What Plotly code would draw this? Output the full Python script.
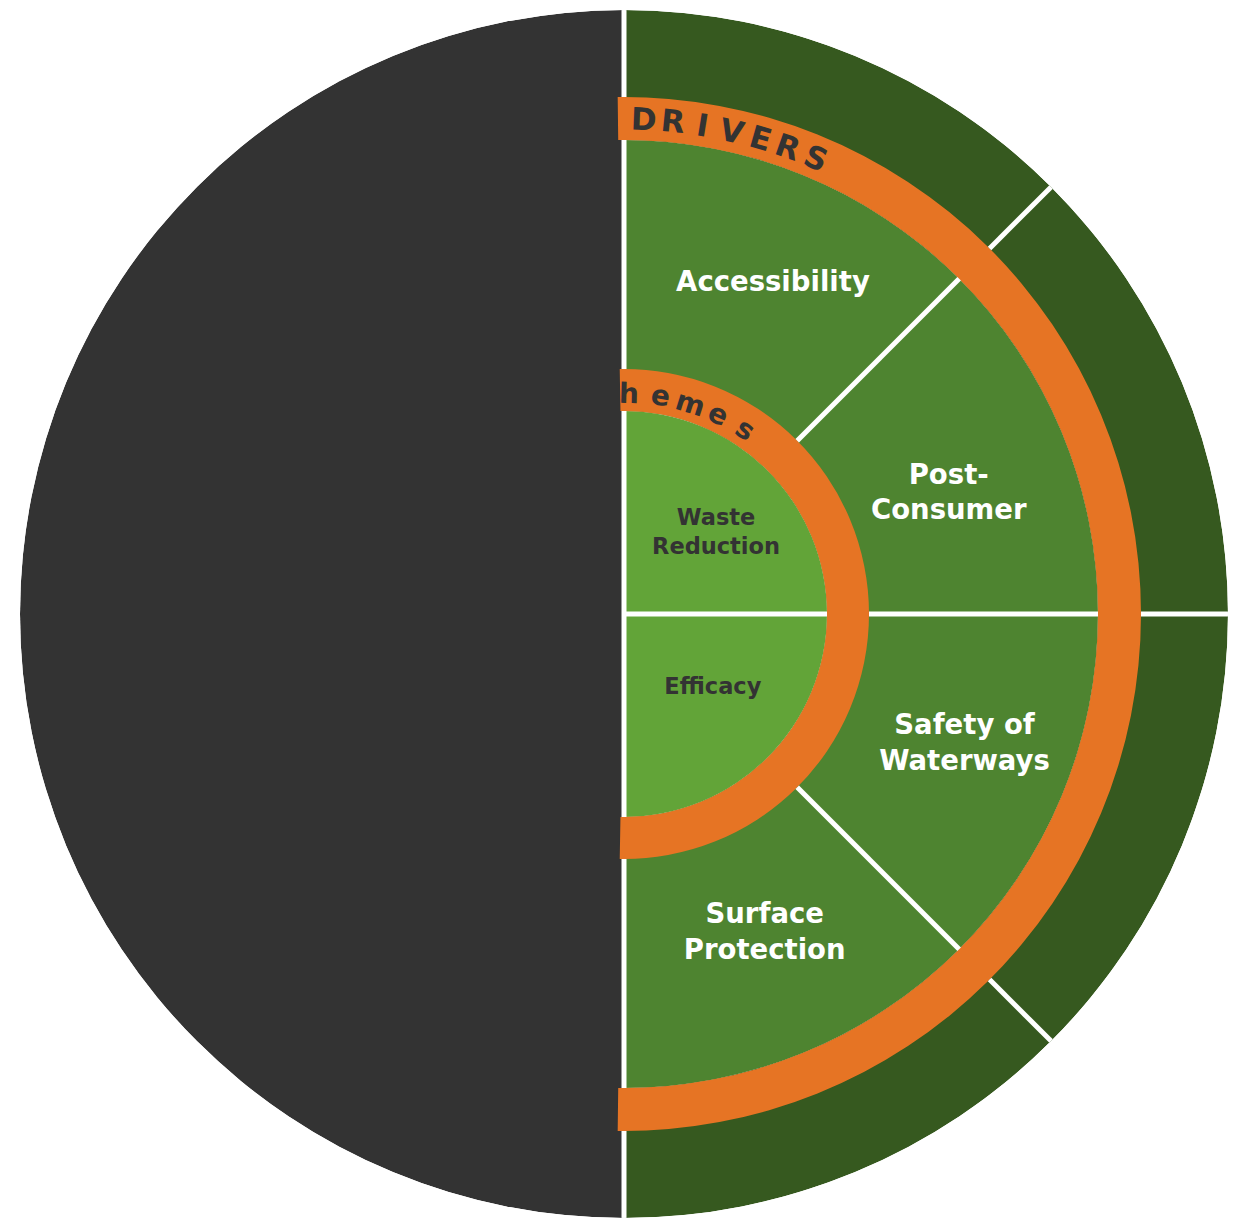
import math
import plotly.graph_objects as go

# ---------------- data ----------------
drivers = ["Accessibility", "Post-<br>Consumer", "Safety of<br>Waterways", "Surface<br>Protection"]
driver_weights = [1, 1, 1, 1]
themes = ["Waste<br>Reduction", "Efficacy"]
theme_weights = [1, 1]
outer_title = "DRIVERS"
inner_title = "Themes"

# ---------------- style ----------------
W, H = 1240, 1218
CX, CY, RPX = 624, 614, 604          # circle centre and radius in pixels
R_THEME, R_OR_IN, R_DRIVER, R_OR_OUT, R_OUT = 203, 245, 474, 517, 604

GRAY = "#333333"
DARK_GREEN = "#36591F"
MID_GREEN = "#4E8430"
LIGHT_GREEN = "#62A438"
ORANGE = "#E67424"
WHITE = "#FFFFFF"
FONT = "DejaVu Sans"

# label placements (radius, angle from top, clockwise)
driver_label_pos = [(362, 24.3), (346, 69.8), (365, 111.1), (350, 156.3)]
theme_label_pos = [(122, 49.0), (116, 130.0)]


def spans(weights, total_angle=180.0):
    tot = float(sum(weights))
    centers, widths, edges = [], [], [0.0]
    start = 0.0
    for w in weights:
        width = total_angle * w / tot
        centers.append(start + width / 2)
        widths.append(width)
        start += width
        edges.append(start)
    return centers, widths, edges


d_cent, d_wid, d_edges = spans(driver_weights)
t_cent, t_wid, t_edges = spans(theme_weights)

fig = go.Figure()

# left dark half
fig.add_trace(go.Barpolar(r=[R_OUT], base=0, theta=[270], width=[180],
                          marker=dict(color=GRAY, line=dict(width=0)), hoverinfo="skip"))
# outer dark-green ring (drivers)
fig.add_trace(go.Barpolar(r=[R_OUT - R_DRIVER] * len(drivers), base=R_DRIVER,
                          theta=d_cent, width=d_wid,
                          marker=dict(color=DARK_GREEN, line=dict(width=0)), hoverinfo="skip"))
# middle ring (drivers)
fig.add_trace(go.Barpolar(r=[R_DRIVER - R_THEME] * len(drivers), base=R_THEME,
                          theta=d_cent, width=d_wid,
                          marker=dict(color=MID_GREEN, line=dict(width=0)), hoverinfo="skip"))
# inner circle (themes)
fig.add_trace(go.Barpolar(r=[R_THEME] * len(themes), base=0,
                          theta=t_cent, width=t_wid,
                          marker=dict(color=LIGHT_GREEN, line=dict(width=0)), hoverinfo="skip"))
# orange rings
fig.add_trace(go.Barpolar(r=[R_OR_OUT - R_DRIVER], base=R_DRIVER, theta=[90], width=[181.4],
                          marker=dict(color=ORANGE, line=dict(width=0)), hoverinfo="skip"))
fig.add_trace(go.Barpolar(r=[R_OR_IN - R_THEME], base=R_THEME, theta=[90], width=[182],
                          marker=dict(color=ORANGE, line=dict(width=0)), hoverinfo="skip"))

# white separators (kept off the orange rings)
sep_r, sep_t = [], []
for e in d_edges:
    segs = [(R_OR_IN, R_DRIVER), (R_OR_OUT, R_OUT)]
    if e in t_edges:
        segs = [(0, R_THEME)] + segs
    for a, b in segs:
        sep_r += [a, b, None]
        sep_t += [e, e, None]
fig.add_trace(go.Scatterpolar(r=sep_r, theta=sep_t, mode="lines", connectgaps=False,
                              line=dict(color=WHITE, width=5), hoverinfo="skip"))

# segment labels
fig.add_trace(go.Scatterpolar(r=[p[0] for p in driver_label_pos], theta=[p[1] for p in driver_label_pos],
                              text=drivers, mode="text",
                              textfont=dict(family=FONT, size=27.5, color=WHITE, weight="bold"),
                              hoverinfo="skip"))
fig.add_trace(go.Scatterpolar(r=[p[0] for p in theme_label_pos], theta=[p[1] for p in theme_label_pos],
                              text=themes, mode="text",
                              textfont=dict(family=FONT, size=22.5, color=GRAY, weight="bold"),
                              hoverinfo="skip"))


# curved ring titles as rotated letters
def curved(text, r, start, step, size):
    anns = []
    for i, ch in enumerate(text):
        ang = start + i * step
        a = math.radians(ang)
        px = CX + r * RPX / R_OUT * math.sin(a)
        py = CY - r * RPX / R_OUT * math.cos(a)
        anns.append(dict(x=px / W, y=1 - py / H, xref="paper", yref="paper",
                         text=ch, showarrow=False, textangle=ang,
                         xanchor="center", yanchor="middle",
                         font=dict(family=FONT, size=size, color=GRAY, weight="bold")))
    return anns


annotations = curved(outer_title, 495, 2.3, 3.42, 31) + curved(inner_title, 221, -6.6, 8.0, 28)

fig.update_layout(
    width=W, height=H,
    margin=dict(l=0, r=0, t=0, b=0),
    paper_bgcolor="white",
    showlegend=False,
    annotations=annotations,
    polar=dict(
        domain=dict(x=[(CX - RPX) / W, (CX + RPX) / W], y=[0, 2 * RPX / H]),
        bgcolor="rgba(0,0,0,0)",
        bargap=0,
        hole=0,
        radialaxis=dict(range=[0, R_OUT], visible=False, showgrid=False, showline=False, ticks=""),
        angularaxis=dict(rotation=90, direction="clockwise", visible=False, showgrid=False,
                         showline=False, ticks="", thetaunit="degrees"),
    ),
)

fig.write_html("out.html")
